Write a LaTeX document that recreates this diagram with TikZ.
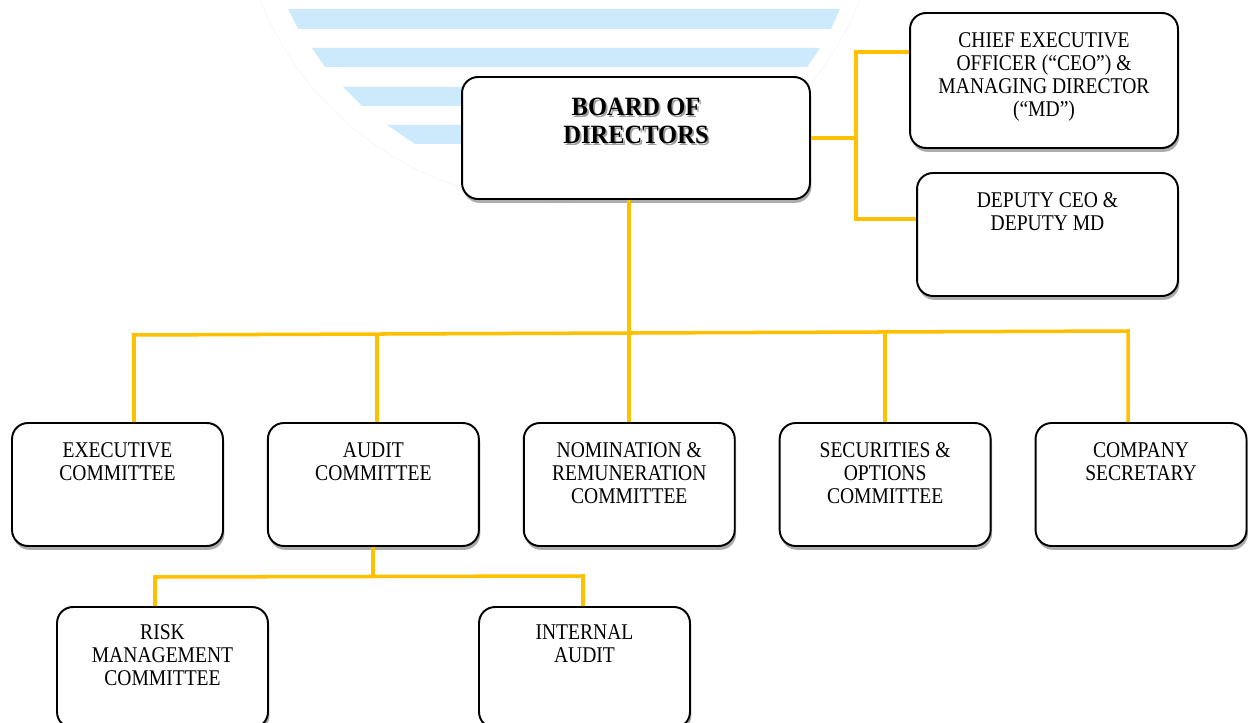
\documentclass[tikz,border=0pt]{standalone}
\usepackage{fontspec}
\setmainfont{Liberation Serif}[FakeStretch=0.87]
\newfontfamily\boardfont{Liberation Serif}[FakeStretch=0.93]
\usepackage{xcolor}
\definecolor{colorLink}{RGB}{255,192,0}
\definecolor{colorStripe}{RGB}{205,233,252}
\usetikzlibrary{positioning, shadows}
\tikzset{
  orgbox/.style={draw, fill=white, line width=1.1pt, rounded corners=0.32cm, minimum width=4.22cm, minimum height=2.46cm, inner sep=0pt, drop shadow={shadow xshift=0.8pt, shadow yshift=-2.2pt, fill=gray!65, opacity=1}},
  orgtext/.style={anchor=north, yshift=-0.41cm, align=center, inner sep=0pt, font=\fontsize{12.8}{13.1}\selectfont},
  link/.style={colorLink, line width=2pt},
}
\newcommand{\shtxt}[1]{\rlap{\kern1pt\raisebox{-1pt}{\textcolor{gray!75}{#1}}}#1}

\begin{document}
\begin{tikzpicture}[x=0.02cm, y=-0.02cm, node distance=0.86cm]
\useasboundingbox (0,0) rectangle (1248,723);
\clip (0,0) rectangle (1248,723);
% logo in the background
\draw[gray!8, line width=0.4pt] (560,-120) circle [radius=6.46cm];
\fill[colorStripe] (288,9) -- (840,9) -- (831,29) -- (298,29) -- cycle;
\fill[colorStripe] (312,48) -- (820,48) -- (807,67) -- (325,67) -- cycle;
\fill[colorStripe] (343,87) -- (790,87) -- (780,106) -- (362,106) -- cycle;
\fill[colorStripe] (387,125) -- (780,125) -- (770,144) -- (415,144) -- cycle;

% board and executives
\node[orgbox, minimum width=6.96cm, minimum height=2.44cm, label={[orgtext, yshift=-0.03cm, font=\boardfont\fontsize{15}{15.6}\selectfont\bfseries]north:{\shtxt{BOARD OF}\\\shtxt{DIRECTORS}}}] (board) at (636,138) {};
\node[orgbox, minimum width=5.36cm, minimum height=2.70cm, label={[orgtext]north:{CHIEF EXECUTIVE\\OFFICER (“CEO”) \&\\MANAGING DIRECTOR\\(“MD”)}}] (ceo) at (1044,80.5) {};
\node[orgbox, minimum width=5.22cm, label={[orgtext]north:{DEPUTY CEO \&\\DEPUTY MD}}] (deputy) at (1047.5,234.5) {};

% committees
\node[orgbox, label={[orgtext]north:{EXECUTIVE\\COMMITTEE}}] (exec) at (117.5,484.5) {};
\node[orgbox, right=of exec, label={[orgtext]north:{AUDIT\\COMMITTEE}}] (audit) {};
\node[orgbox, right=of audit, label={[orgtext]north:{NOMINATION \&\\REMUNERATION\\COMMITTEE}}] (nomin) {};
\node[orgbox, right=of nomin, label={[orgtext]north:{SECURITIES \&\\OPTIONS\\COMMITTEE}}] (secur) {};
\node[orgbox, right=of secur, label={[orgtext]north:{COMPANY\\SECRETARY}}] (secret) {};

% under audit
\node[orgbox, minimum height=2.42cm, label={[orgtext, yshift=0.04cm]north:{RISK\\MANAGEMENT\\COMMITTEE}}] (risk) at (162.5,667.5) {};
\node[orgbox, minimum height=2.42cm, label={[orgtext, yshift=0.04cm]north:{INTERNAL\\AUDIT}}] (internal) at (584.5,667.5) {};

% connectors
\coordinate (rtop) at (856,52);
\coordinate (rbot) at (856,219);
\draw[link] (board.east) -- (board.east -| rtop);
\draw[link] (ceo.west |- rtop) -- (rtop) -- (rbot) -- (deputy.west |- rbot);

\coordinate (bus1) at (134,335);
\coordinate (bus2) at (377,334);
\coordinate (bus3) at (629,333);
\coordinate (bus4) at (885,332);
\coordinate (bus5) at (1128,331);
\draw[link] (exec.north -| bus1) -- (bus1) -- (bus5) -- (secret.north -| bus5);
\draw[link] (board.south -| bus3) -- (bus3);
\foreach \bp/\nd in {bus2/audit, bus3/nomin, bus4/secur}
  \draw[link] (\bp) -- (\nd.north -| \bp);

\coordinate (sub0) at (373,576);
\coordinate (sub1) at (155,577);
\coordinate (sub2) at (583,576);
\draw[link] (audit.south -| sub0) -- (sub0);
\draw[link] (risk.north -| sub1) -- (sub1) -- (sub2) -- (internal.north -| sub2);
\end{tikzpicture}
\end{document}
